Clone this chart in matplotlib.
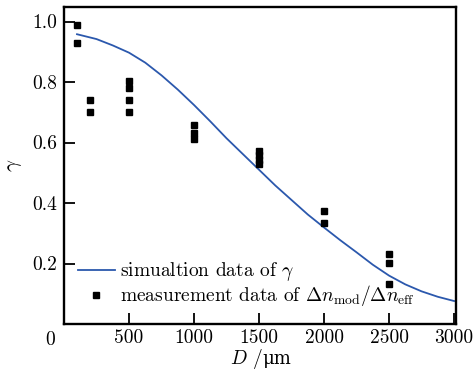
import matplotlib
matplotlib.use("Agg")
import matplotlib.pyplot as plt

plt.rcParams['font.family'] = ['cmr10', 'DejaVu Serif']
plt.rcParams['mathtext.fontset'] = 'cm'
plt.rcParams['axes.formatter.use_mathtext'] = True

# simulation curve
sim_D = [100, 250, 375, 500, 625, 750, 875, 1000, 1125, 1250, 1375, 1500,
         1625, 1750, 1875, 2000, 2125, 2250, 2375, 2500, 2625, 2750, 2875, 3000]
sim_g = [0.958, 0.942, 0.921, 0.897, 0.864, 0.822, 0.775, 0.724, 0.670, 0.614, 0.562, 0.510,
         0.458, 0.410, 0.362, 0.319, 0.277, 0.237, 0.196, 0.160, 0.131, 0.108, 0.090, 0.076]

# measurement data
meas_D = [100, 100, 200, 200, 500, 500, 500, 500, 1000, 1000, 1000,
          1500, 1500, 1500, 1500, 2000, 2000, 2500, 2500, 2500]
meas_g = [0.99, 0.93, 0.74, 0.70, 0.803, 0.779, 0.74, 0.70, 0.659, 0.632, 0.610,
          0.572, 0.558, 0.543, 0.529, 0.375, 0.335, 0.232, 0.203, 0.132]

xticks = [500, 1000, 1500, 2000, 2500, 3000]
yticks = [0.2, 0.4, 0.6, 0.8, 1.0]

fig = plt.figure(figsize=(4.73, 3.70), dpi=100)
ax = fig.add_axes([64/473, 46/370, 392/473, 317/370])

ax.plot(sim_D, sim_g, color='#2b58ad', lw=1.3, label=r'simualtion data of $\gamma$')
ax.plot(meas_D, meas_g, ls='none', marker='s', ms=4.6, color='black', mec='black',
        label=r'measurement data of $\Delta n_{\rm mod}/\Delta n_{\rm eff}$')

ax.set_xlim(0, 3015)
ax.set_ylim(0, 1.048)
ax.set_xticks(xticks)
ax.set_yticks(yticks)
ax.set_xticklabels([str(v) for v in xticks])
ax.set_yticklabels([f'{v:.1f}' for v in yticks])
ax.tick_params(direction='in', length=8, width=1.3, labelsize=14, pad=5)
ax.tick_params(axis='x', pad=4)
for s in ax.spines.values():
    s.set_linewidth(1.7)

ax.text(-0.022, -0.022, '0', transform=ax.transAxes, ha='right', va='top', fontsize=14)

# x label: italic D, upright micro sign
ax.text(0.507, -0.125, r'$D$ /', transform=ax.transAxes, ha='right', va='baseline', fontsize=14)
ax.text(0.507, -0.125, 'μm', transform=ax.transAxes, ha='left', va='baseline', fontsize=13,
        family='DejaVu Serif')
ax.set_ylabel(r'$\gamma$', fontsize=15, labelpad=6)

ax.legend(loc='lower left', bbox_to_anchor=(0.0, 0.006), frameon=False, fontsize=14,
          handlelength=1.9, handletextpad=0.3, labelspacing=0.0, borderaxespad=0.3)

fig.savefig('out.png', dpi=100)
